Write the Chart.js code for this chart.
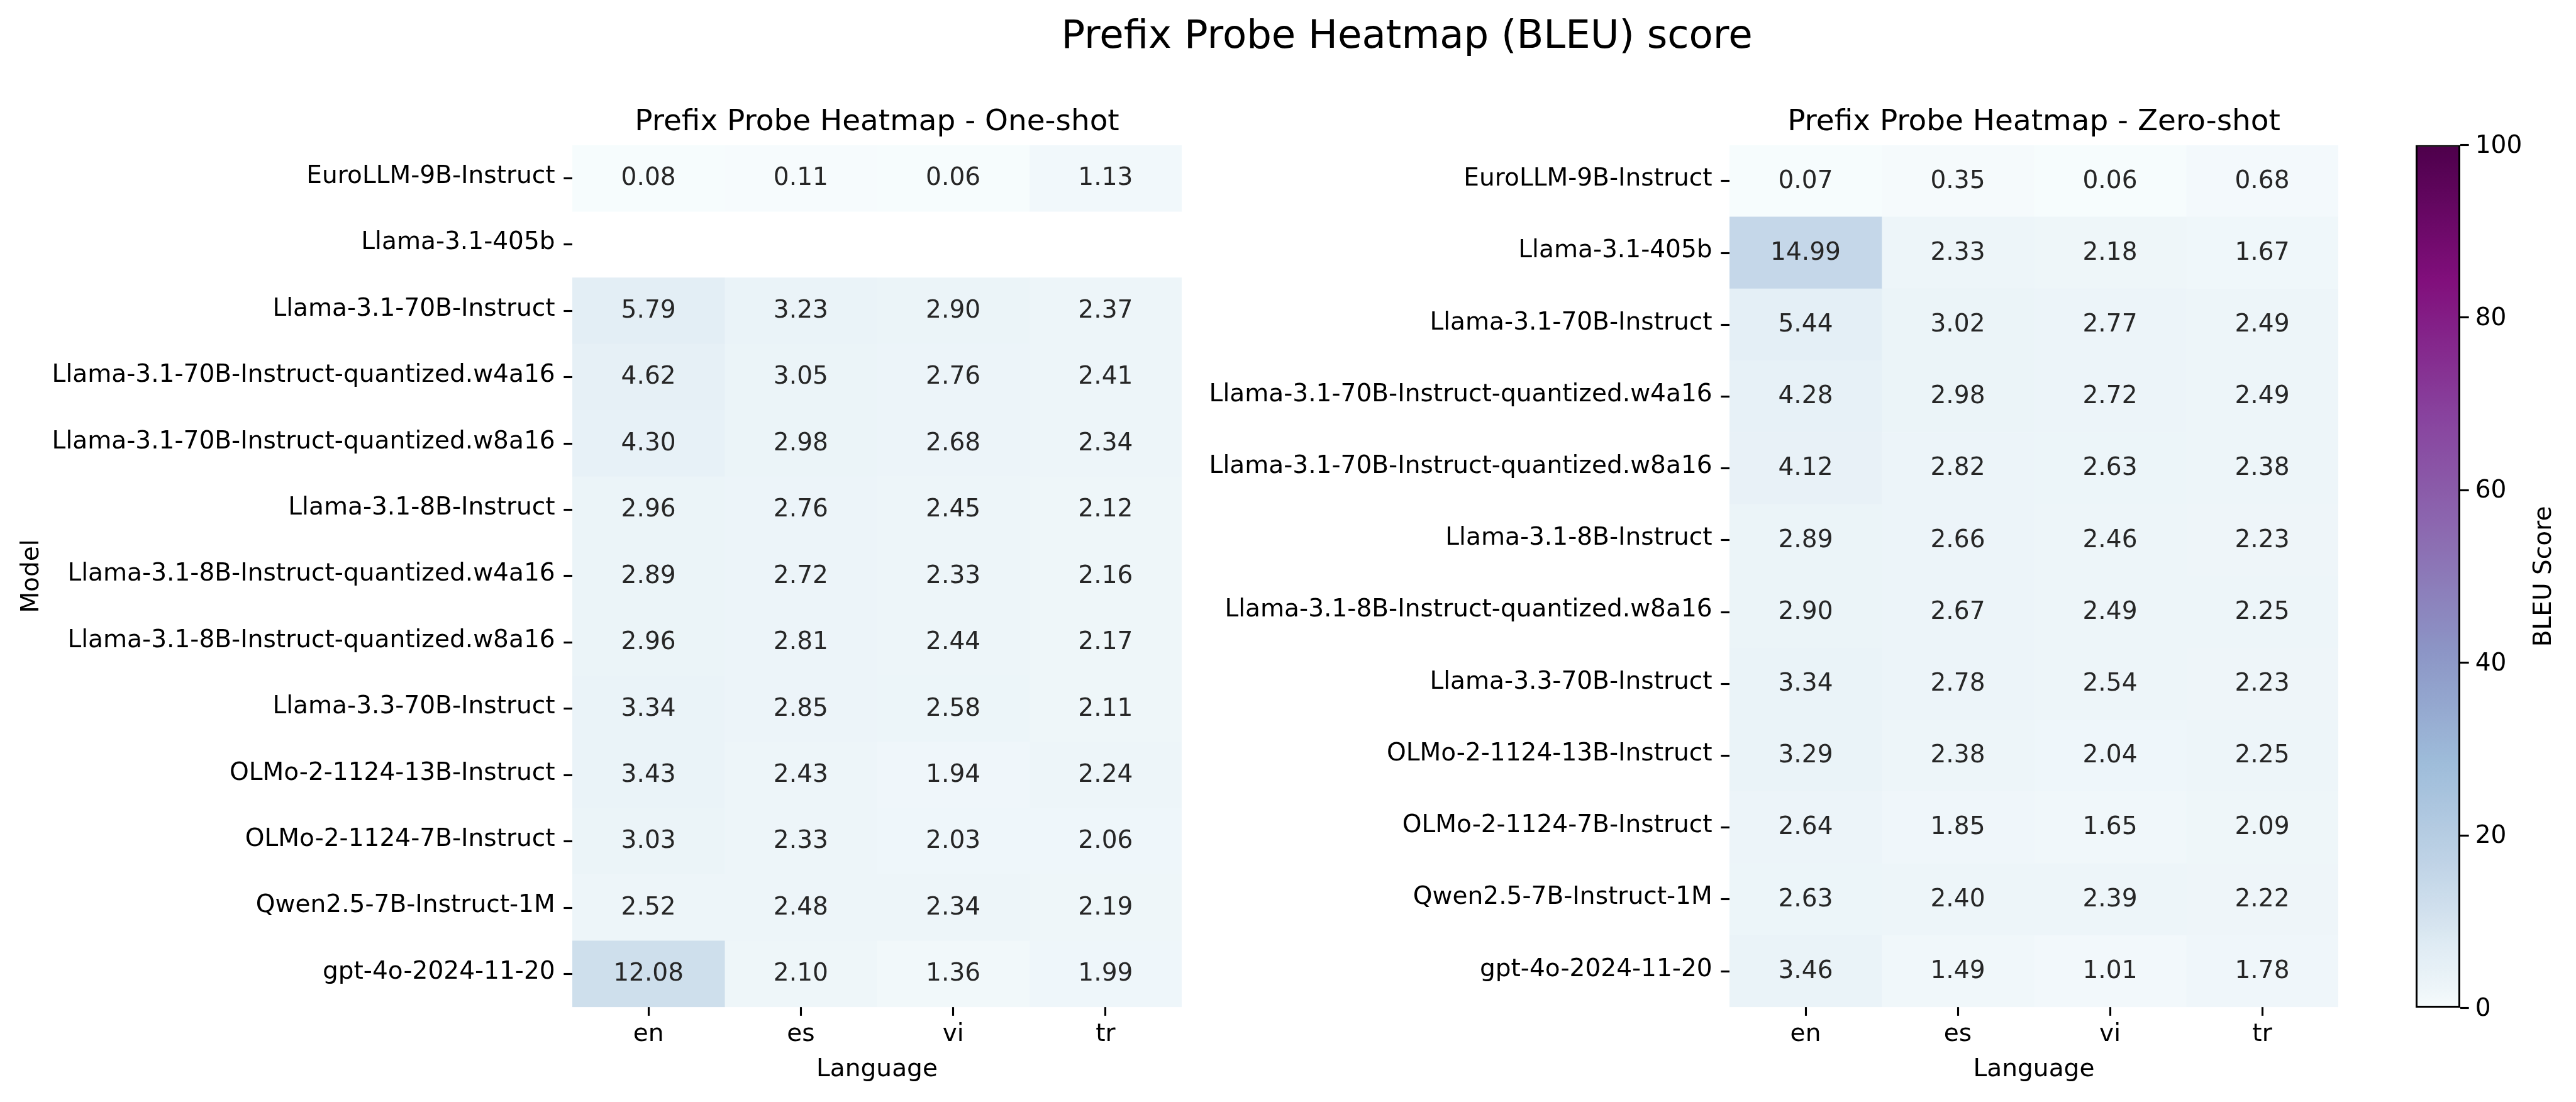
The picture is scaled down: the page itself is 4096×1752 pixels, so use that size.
<!DOCTYPE html>
<html>
<head>
<meta charset="utf-8">
<script src="https://cdn.jsdelivr.net/npm/chart.js@4.4.1/dist/chart.umd.min.js"></script>
<style>
html, body { margin:0; padding:0; background:#fff; width:4096px; height:1752px; overflow:hidden; }
canvas { position:absolute; top:0; }
#suptitle { position:absolute; left:2237px; top:24px; transform:translateX(-50%);
  font-family:'DejaVu Sans'; font-size:62.5px; line-height:62.5px; white-space:nowrap; color:#000; }
</style>
</head>
<body>
<div id="suptitle">Prefix Probe Heatmap (BLEU) score</div>
<canvas id="left" width="1879" height="1752" style="left:0px"></canvas>
<canvas id="right" width="1838" height="1752" style="left:1880px"></canvas>
<canvas id="cbar" width="336" height="1752" style="left:3760px"></canvas>
<script>
// ---------------- data ----------------
const LANGUAGES = ['en', 'es', 'vi', 'tr'];

const ONE_SHOT_MODELS = [
  'EuroLLM-9B-Instruct', 'Llama-3.1-405b', 'Llama-3.1-70B-Instruct',
  'Llama-3.1-70B-Instruct-quantized.w4a16', 'Llama-3.1-70B-Instruct-quantized.w8a16',
  'Llama-3.1-8B-Instruct', 'Llama-3.1-8B-Instruct-quantized.w4a16',
  'Llama-3.1-8B-Instruct-quantized.w8a16', 'Llama-3.3-70B-Instruct',
  'OLMo-2-1124-13B-Instruct', 'OLMo-2-1124-7B-Instruct', 'Qwen2.5-7B-Instruct-1M',
  'gpt-4o-2024-11-20'
];
const ONE_SHOT_EN = [0.08, null, 5.79, 4.62, 4.30, 2.96, 2.89, 2.96, 3.34, 3.43, 3.03, 2.52, 12.08];
const ONE_SHOT_ES = [0.11, null, 3.23, 3.05, 2.98, 2.76, 2.72, 2.81, 2.85, 2.43, 2.33, 2.48, 2.10];
const ONE_SHOT_VI = [0.06, null, 2.90, 2.76, 2.68, 2.45, 2.33, 2.44, 2.58, 1.94, 2.03, 2.34, 1.36];
const ONE_SHOT_TR = [1.13, null, 2.37, 2.41, 2.34, 2.12, 2.16, 2.17, 2.11, 2.24, 2.06, 2.19, 1.99];

const ZERO_SHOT_MODELS = [
  'EuroLLM-9B-Instruct', 'Llama-3.1-405b', 'Llama-3.1-70B-Instruct',
  'Llama-3.1-70B-Instruct-quantized.w4a16', 'Llama-3.1-70B-Instruct-quantized.w8a16',
  'Llama-3.1-8B-Instruct', 'Llama-3.1-8B-Instruct-quantized.w8a16', 'Llama-3.3-70B-Instruct',
  'OLMo-2-1124-13B-Instruct', 'OLMo-2-1124-7B-Instruct', 'Qwen2.5-7B-Instruct-1M',
  'gpt-4o-2024-11-20'
];
const ZERO_SHOT_EN = [0.07, 14.99, 5.44, 4.28, 4.12, 2.89, 2.90, 3.34, 3.29, 2.64, 2.63, 3.46];
const ZERO_SHOT_ES = [0.35, 2.33, 3.02, 2.98, 2.82, 2.66, 2.67, 2.78, 2.38, 1.85, 2.40, 1.49];
const ZERO_SHOT_VI = [0.06, 2.18, 2.77, 2.72, 2.63, 2.46, 2.49, 2.54, 2.04, 1.65, 2.39, 1.01];
const ZERO_SHOT_TR = [0.68, 1.67, 2.49, 2.49, 2.38, 2.23, 2.25, 2.23, 2.25, 2.09, 2.22, 1.78];

const COLORBAR_TICKS = [0, 20, 40, 60, 80, 100];

// ---------------- style ----------------
const PT = 0.938 * 300 / 72;          // px per point
const FONT = 'DejaVu Sans';
const TICK_SIZE = 10 * PT;
const TITLE_SIZE = 12 * PT;
const TICK_LEN = 3.5 * PT;
const TICK_W = 0.8 * PT;
const LABEL_PAD = 3.5 * PT;
const BUPU = ['#f7fcfd','#e0ecf4','#bfd3e6','#9ebcda','#8c96c6','#8c6bb1','#88419d','#810f7c','#4d004b'];
const CMAP_GAMMA = 0.78;

Chart.defaults.font.family = FONT;
Chart.defaults.color = '#000';

function hexToRgb(h) { return [1,3,5].map(i => parseInt(h.substr(i,2),16)); }
const BUPU_RGB = BUPU.map(hexToRgb);
function cmap(v) {
  const lo = COLORBAR_TICKS[0], hi = COLORBAR_TICKS[COLORBAR_TICKS.length-1];
  let t = Math.min(1, Math.max(0, (v - lo) / (hi - lo)));
  t = Math.pow(t, CMAP_GAMMA);
  const p = t * (BUPU_RGB.length - 1);
  const i = Math.min(BUPU_RGB.length - 2, Math.floor(p));
  const f = p - i;
  const a = BUPU_RGB[i], b = BUPU_RGB[i+1];
  const c = a.map((x, k) => Math.round(x + (b[k]-x)*f));
  return `rgb(${c[0]},${c[1]},${c[2]})`;
}

// shift tick labels vertically to mimic matplotlib's text alignment
function shiftLabels(scale, dy) {
  const items = scale.getLabelItems();
  if (items && !items._shifted) {
    items.forEach(it => { it.textOffset += dy; });
    items._shifted = true;
  }
}

function heatmap(canvasId, models, columns, cfg) {
  const datasets = columns.map((vals, j) => ({
    label: LANGUAGES[j],
    data: vals.map(v => v == null ? null : [j, j + 1]),
    backgroundColor: vals.map(v => v == null ? 'rgba(0,0,0,0)' : cmap(v)),
    borderWidth: 0,
    barPercentage: 1,
    categoryPercentage: 1,
    grouped: false
  }));

  const annotate = {
    id: 'annotate',
    beforeDraw(chart) {
      shiftLabels(chart.scales.y, (0.276 - 0.346) * TICK_SIZE);
    },
    afterDatasetsDraw(chart) {
      const ctx = chart.ctx;
      ctx.save();
      ctx.font = `${TICK_SIZE}px "${FONT}"`;
      ctx.fillStyle = '#262626';
      ctx.textAlign = 'center';
      ctx.textBaseline = 'alphabetic';
      columns.forEach((vals, j) => {
        const meta = chart.getDatasetMeta(j);
        vals.forEach((v, i) => {
          if (v == null) return;
          const c = meta.data[i].getCenterPoint();
          ctx.fillText(v.toFixed(2), c.x, c.y + 0.276 * TICK_SIZE);
        });
      });
      ctx.restore();
    },
    afterDraw(chart) {
      const ctx = chart.ctx, a = chart.chartArea;
      ctx.save();
      ctx.font = `${TITLE_SIZE}px "${FONT}"`;
      ctx.fillStyle = '#000';
      ctx.textAlign = 'center';
      ctx.textBaseline = 'alphabetic';
      ctx.fillText(cfg.title, (a.left + a.right) / 2, a.top - 6 * PT);
      ctx.restore();
    }
  };

  return new Chart(document.getElementById(canvasId), {
    type: 'bar',
    data: { labels: models, datasets },
    plugins: [annotate],
    options: {
      responsive: false,
      animation: false,
      devicePixelRatio: 1,
      indexAxis: 'y',
      layout: { padding: { top: 230.7, left: 0, right: 0, bottom: 0 } },
      plugins: { legend: { display: false }, tooltip: { enabled: false }, title: { display: false } },
      scales: {
        x: {
          type: 'linear', min: 0, max: LANGUAGES.length,
          afterBuildTicks: s => { s.ticks = LANGUAGES.map((_, j) => ({ value: j + 0.5 })); },
          afterFit: s => { s.height = 150.8; },
          ticks: {
            autoSkip: false, maxRotation: 0, minRotation: 0, padding: 7,
            font: { size: TICK_SIZE }, color: '#000',
            callback: (v, i) => LANGUAGES[i]
          },
          grid: { display: true, drawOnChartArea: false, drawTicks: true, tickLength: TICK_LEN,
                  tickWidth: TICK_W, tickColor: '#000', color: '#000' },
          border: { display: false },
          title: { display: true, text: 'Language', font: { size: TICK_SIZE }, color: '#000',
                   padding: { top: 0, bottom: 27.5 } }
        },
        y: {
          type: 'category', offset: true,
          afterFit: s => { s.width = cfg.yWidth; },
          ticks: { autoSkip: false, padding: LABEL_PAD, font: { size: TICK_SIZE }, color: '#000' },
          grid: { display: true, drawOnChartArea: false, offset: false, drawTicks: true, tickLength: TICK_LEN,
                  tickWidth: TICK_W, tickColor: '#000', color: '#000' },
          border: { display: false },
          title: cfg.yTitle
            ? { display: true, text: cfg.yTitle, font: { size: TICK_SIZE }, color: '#000', padding: { top: 27.1, bottom: 0 } }
            : { display: false }
        }
      }
    }
  });
}

heatmap('left', ONE_SHOT_MODELS, [ONE_SHOT_EN, ONE_SHOT_ES, ONE_SHOT_VI, ONE_SHOT_TR],
        { title: 'Prefix Probe Heatmap - One-shot', yWidth: 910, yTitle: 'Model' });
heatmap('right', ZERO_SHOT_MODELS, [ZERO_SHOT_EN, ZERO_SHOT_ES, ZERO_SHOT_VI, ZERO_SHOT_TR],
        { title: 'Prefix Probe Heatmap - Zero-shot', yWidth: 870, yTitle: null });

// ---------------- colorbar ----------------
const CB_MIN = COLORBAR_TICKS[0], CB_MAX = COLORBAR_TICKS[COLORBAR_TICKS.length - 1];
const cbarPlugin = {
  id: 'cbarLabel',
  beforeDraw(chart) { shiftLabels(chart.scales.y, 2); },
  afterDraw(chart) {
    const ctx = chart.ctx, a = chart.chartArea;
    ctx.save();
    ctx.translate(a.right + 144, (a.top + a.bottom) / 2);
    ctx.rotate(-Math.PI / 2);
    ctx.font = `${TICK_SIZE}px "${FONT}"`;
    ctx.fillStyle = '#000';
    ctx.textAlign = 'center';
    ctx.textBaseline = 'alphabetic';
    ctx.fillText('BLEU Score', 0, 0);
    ctx.restore();
  }
};
new Chart(document.getElementById('cbar'), {
  type: 'bar',
  data: {
    labels: ['BLEU Score'],
    datasets: [{
      data: [[CB_MIN, CB_MAX]],
      backgroundColor: (c) => {
        const chart = c.chart;
        if (!chart.chartArea) return '#fff';
        const ys = chart.scales.y;
        const g = chart.ctx.createLinearGradient(0, ys.getPixelForValue(CB_MIN), 0, ys.getPixelForValue(CB_MAX));
        const N = 128;
        for (let k = 0; k <= N; k++) g.addColorStop(k / N, cmap(CB_MIN + (CB_MAX - CB_MIN) * k / N));
        return g;
      },
      borderColor: '#000',
      borderWidth: 3,
      borderSkipped: false,
      inflateAmount: 0,
      barPercentage: 1,
      categoryPercentage: 1
    }]
  },
  plugins: [cbarPlugin],
  options: {
    responsive: false,
    animation: false,
    devicePixelRatio: 1,
    layout: { padding: { top: 230.5, left: 81, right: 0, bottom: 149.6 } },
    plugins: { legend: { display: false }, tooltip: { enabled: false } },
    scales: {
      x: { display: false, offset: true },
      y: {
        position: 'right', min: CB_MIN, max: CB_MAX,
        afterBuildTicks: s => { s.ticks = COLORBAR_TICKS.map(v => ({ value: v })); },
        afterFit: s => { s.width = 184; },
        ticks: { autoSkip: false, padding: 10, font: { size: TICK_SIZE }, color: '#000' },
        grid: { display: true, drawOnChartArea: false, drawTicks: true, tickLength: TICK_LEN,
                tickWidth: TICK_W, tickColor: '#000', color: '#000' },
        border: { display: false }
      }
    }
  }
});
</script>
</body>
</html>
